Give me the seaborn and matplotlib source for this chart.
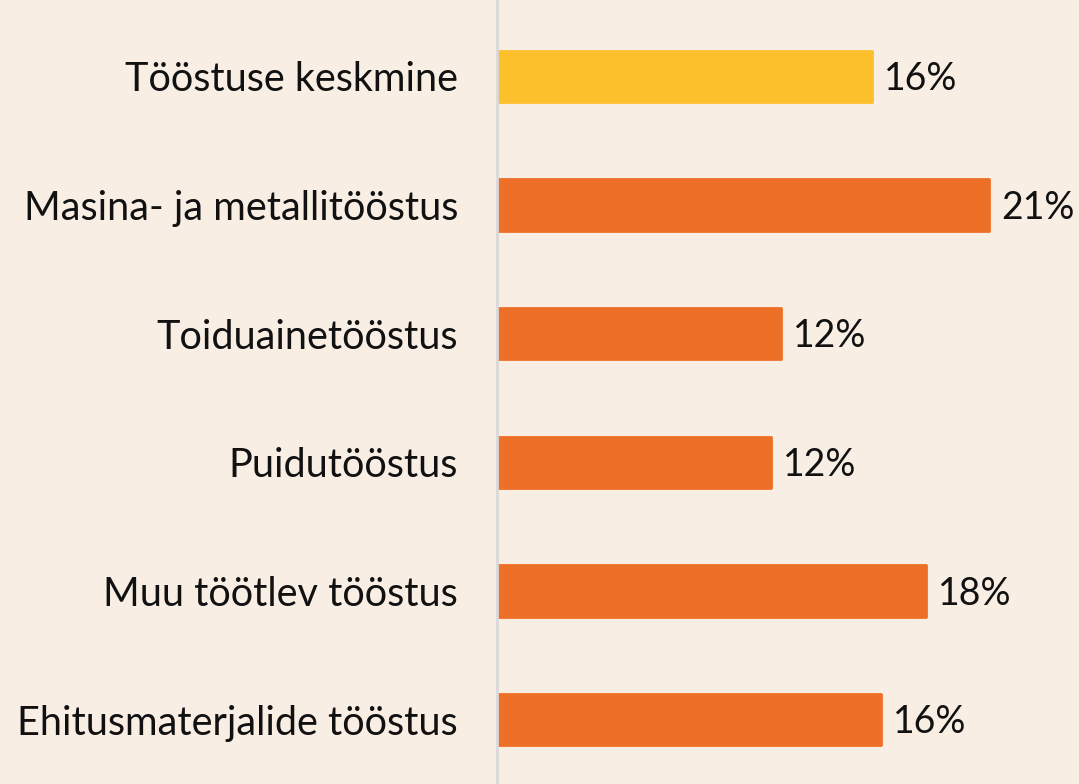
import matplotlib
matplotlib.use("Agg")
import matplotlib.pyplot as plt
import seaborn as sns
import pandas as pd

categories = ["Tööstuse keskmine", "Masina- ja metallitööstus", "Toiduainetööstus",
              "Puidutööstus", "Muu töötlev tööstus", "Ehitusmaterjalide tööstus"]
values = [0.160, 0.210, 0.121, 0.117, 0.183, 0.164]
labels = ["16%", "21%", "12%", "12%", "18%", "16%"]
colors = ["#FCC02C", "#EE6F27", "#EE6F27", "#EE6F27", "#EE6F27", "#EE6F27"]

bg = "#F8EEE4"
sns.set_theme(style="white")
plt.rcParams["font.family"] = ["Lato", "DejaVu Sans"]

df = pd.DataFrame({"cat": categories, "val": values})

fig = plt.figure(figsize=(10.79, 7.84), dpi=100, facecolor=bg)
W, H = 1079, 784
ax = fig.add_axes([497 / W, 0, (W - 497) / W, 772 / H])
ax.set_facecolor(bg)

sns.barplot(data=df, x="val", y="cat", hue="cat", palette=colors, legend=False,
            orient="h", width=0.40, ax=ax, saturation=1)

for p, c in zip(ax.patches, colors):
    p.set_edgecolor(c)
    p.set_linewidth(2.0)
    p.set_joinstyle("round")

ax.set_xlim(0, (W - 497) / 2343)
ax.set_ylim(5.5, -0.5)
ax.set_xlabel("")
ax.set_ylabel("")
ax.set_xticks([])
ax.tick_params(axis="y", length=0, pad=28, labelsize=28.5, labelcolor="#111111")
for s in ["top", "right", "bottom"]:
    ax.spines[s].set_visible(False)
ax.spines["left"].set_color("#D9D9D9")
ax.spines["left"].set_linewidth(2)
ax.spines["left"].set_bounds(-0.5 - 0.1, 5.5)
ax.spines["left"].set_clip_on(False)

for i, (v, lab) in enumerate(zip(values, labels)):
    ax.text(v + 0.0052, i + 0.02, lab, va="center", ha="left", fontsize=27, color="#111111")

fig.savefig("out.png", dpi=100, facecolor=bg)
